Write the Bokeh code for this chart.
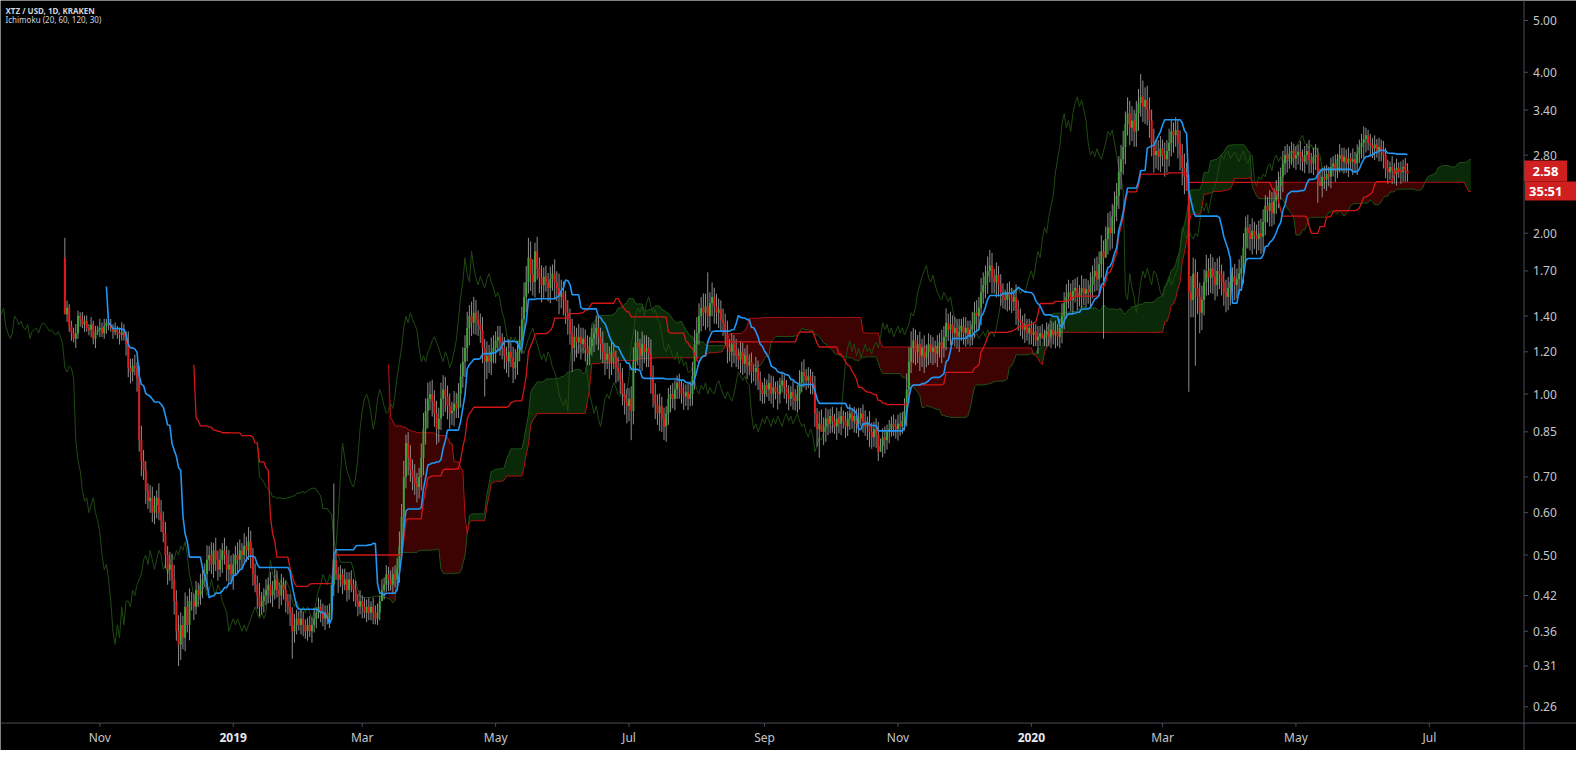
import numpy as np
import pandas as pd
from bokeh.plotting import figure
from bokeh.models import Range1d, Label, Span
from bokeh.core.properties import value
from bokeh.embed import file_html
from bokeh.resources import INLINE

# ---------------- data (daily XTZ/USD candles) -------------
# day 0 = first candle (mid Oct 2018); open of day 0, then open = previous close
first_open = 1.80
close_a = [1.41, 1.45, 1.34, 1.30, 1.27, 1.30, 1.40, 1.38, 1.35, 1.37,
           1.33, 1.32, 1.35, 1.27, 1.31, 1.32, 1.33, 1.30, 1.34, 1.36,
           1.35, 1.33, 1.31, 1.32, 1.30, 1.29, 1.31, 1.28, 1.24, 1.12,
           1.10, 1.13, 1.12, 1.07, 0.82, 0.75, 0.72, 0.66, 0.63, 0.64,
           0.60, 0.62, 0.64, 0.60, 0.58, 0.55, 0.50, 0.47, 0.48, 0.45,
           0.41, 0.36, 0.34, 0.37, 0.35, 0.40, 0.37, 0.41, 0.41, 0.40,
           0.43, 0.42, 0.44, 0.45, 0.46, 0.49, 0.50, 0.48, 0.51, 0.49,
           0.47, 0.49, 0.51, 0.50, 0.47, 0.48, 0.46, 0.48, 0.50, 0.49,
           0.51, 0.50, 0.52, 0.51, 0.53, 0.50, 0.46, 0.44, 0.42, 0.40,
           0.41, 0.42, 0.43, 0.44, 0.42, 0.43, 0.45, 0.43, 0.42, 0.44]
close_b = [0.43, 0.41, 0.40, 0.39, 0.36, 0.37, 0.38, 0.37, 0.38, 0.37,
           0.36, 0.37, 0.36, 0.37, 0.38, 0.39, 0.40, 0.39, 0.38, 0.39,
           0.38, 0.39, 0.44, 0.49, 0.46, 0.45, 0.46, 0.44, 0.45, 0.43,
           0.45, 0.44, 0.43, 0.41, 0.40, 0.41, 0.40, 0.39, 0.40, 0.39,
           0.40, 0.39, 0.38, 0.39, 0.41, 0.43, 0.44, 0.46, 0.45, 0.44,
           0.46, 0.45, 0.47, 0.52, 0.59, 0.70, 0.81, 0.76, 0.72, 0.70,
           0.68, 0.67, 0.70, 0.76, 0.86, 0.93, 0.98, 1.00, 0.97, 0.92,
           0.86, 0.90, 0.98, 1.02, 0.99, 0.95, 0.92, 0.93, 0.96, 0.94,
           1.00, 1.08, 1.15, 1.22, 1.33, 1.40, 1.36, 1.42, 1.38, 1.35,
           1.32, 1.22, 1.15, 1.18, 1.15, 1.20, 1.22, 1.26, 1.28, 1.25]
close_c = [1.22, 1.18, 1.15, 1.20, 1.17, 1.12, 1.15, 1.20, 1.26, 1.38,
           1.52, 1.62, 1.80, 1.68, 1.62, 1.85, 1.72, 1.65, 1.60, 1.66,
           1.62, 1.58, 1.64, 1.68, 1.62, 1.58, 1.52, 1.55, 1.50, 1.42,
           1.38, 1.30, 1.22, 1.28, 1.25, 1.28, 1.24, 1.27, 1.22, 1.19,
           1.23, 1.27, 1.30, 1.33, 1.28, 1.24, 1.20, 1.16, 1.19, 1.15,
           1.20, 1.17, 1.12, 1.10, 1.06, 1.00, 0.97, 0.95, 0.98, 0.93,
           1.15, 1.25, 1.22, 1.18, 1.24, 1.20, 1.22, 1.19, 1.08, 1.00,
           0.96, 0.92, 0.95, 0.90, 0.87, 0.92, 0.98, 1.00, 0.98, 1.02,
           1.05, 1.03, 1.00, 0.99, 1.01, 0.98, 1.00, 1.08, 1.24, 1.30,
           1.40, 1.45, 1.42, 1.46, 1.40, 1.48, 1.52, 1.46, 1.42, 1.44]
close_d = [1.38, 1.36, 1.30, 1.22, 1.20, 1.24, 1.21, 1.18, 1.16, 1.20,
           1.14, 1.18, 1.13, 1.15, 1.10, 1.10, 1.12, 1.06, 1.02, 1.00,
           1.04, 1.02, 1.05, 1.00, 1.03, 1.01, 1.00, 1.04, 1.06, 1.03,
           1.00, 0.98, 1.01, 0.99, 0.97, 1.00, 1.05, 1.10, 1.08, 1.06,
           1.08, 1.05, 1.04, 0.92, 0.86, 0.88, 0.85, 0.87, 0.90, 0.88,
           0.91, 0.89, 0.87, 0.90, 0.88, 0.91, 0.89, 0.87, 0.90, 0.92,
           0.89, 0.91, 0.88, 0.90, 0.92, 0.89, 0.87, 0.88, 0.85, 0.83,
           0.86, 0.84, 0.78, 0.80, 0.83, 0.82, 0.85, 0.86, 0.88, 0.87,
           0.86, 0.88, 0.87, 0.89, 0.93, 1.02, 1.15, 1.22, 1.26, 1.20,
           1.24, 1.18, 1.22, 1.17, 1.20, 1.24, 1.20, 1.22, 1.19, 1.23]
close_e = [1.25, 1.22, 1.28, 1.36, 1.32, 1.35, 1.30, 1.33, 1.28, 1.31,
           1.34, 1.30, 1.33, 1.29, 1.32, 1.35, 1.42, 1.40, 1.45, 1.55,
           1.60, 1.66, 1.70, 1.74, 1.65, 1.62, 1.67, 1.60, 1.55, 1.52,
           1.50, 1.55, 1.52, 1.49, 1.52, 1.44, 1.38, 1.36, 1.32, 1.35,
           1.30, 1.33, 1.29, 1.31, 1.26, 1.28, 1.30, 1.27, 1.29, 1.31,
           1.28, 1.32, 1.29, 1.31, 1.28, 1.33, 1.40, 1.48, 1.52, 1.55,
           1.50, 1.56, 1.58, 1.52, 1.55, 1.58, 1.54, 1.57, 1.55, 1.60,
           1.66, 1.70, 1.64, 1.75, 1.85, 1.80, 1.95, 2.05, 2.00, 2.15,
           2.25, 2.35, 2.60, 2.75, 2.90, 3.20, 3.35, 3.15, 3.25, 3.10,
           3.35, 3.50, 3.60, 3.45, 3.55, 3.40, 3.25, 2.95, 2.80, 2.85]
close_f = [2.78, 2.88, 2.80, 2.75, 2.85, 2.95, 3.10, 3.05, 3.12, 2.95,
           2.80, 2.65, 2.55, 2.40, 1.55, 1.50, 1.68, 1.58, 1.52, 1.42,
           1.50, 1.62, 1.70, 1.65, 1.72, 1.66, 1.60, 1.70, 1.68, 1.62,
           1.55, 1.52, 1.58, 1.62, 1.66, 1.60, 1.64, 1.68, 1.72, 1.88,
           2.05, 2.00, 1.95, 2.02, 1.98, 1.95, 2.00, 1.97, 2.10, 2.25,
           2.20, 2.28, 2.18, 2.30, 2.40, 2.45, 2.55, 2.70, 2.80, 2.75,
           2.82, 2.85, 2.76, 2.80, 2.84, 2.78, 2.72, 2.80, 2.85, 2.74,
           2.70, 2.78, 2.80, 2.50, 2.45, 2.55, 2.52, 2.58, 2.55, 2.66,
           2.70, 2.62, 2.75, 2.80, 2.72, 2.78, 2.70, 2.76, 2.72, 2.75,
           2.70, 2.82, 2.90, 2.95, 3.00, 3.05, 2.95, 2.92, 2.88, 2.93,
           2.86, 2.90, 2.84, 2.80, 2.64, 2.60, 2.66, 2.62, 2.58, 2.65,
           2.62, 2.60, 2.66, 2.62, 2.58]

# wick of each candle beyond its body, in units of 0.8 % (one digit per day)
wick_unit = 0.008
wick_up = ("0423353243 3242325342 2324235437 5463786547 6548756576 8697586754 "
           "5467685747 5647585657 6475864657 5464756546 4547365454 3454635454 "
           "4509645364 4535463545 3545364545 4568798676 7658979786 7698767576 "
           "6787968575 6758687566 5657567687 8979868675 6575868765 7686575657 "
           "5657657564 6546576767 8765757686 6575646565 4546457889 7687968576 "
           "5657565646 5464546454 4354636453 4536457674 5465378565 4546453545 "
           "3546356475 4674564545 4565798676 5757465646 5768575657 4564576768 "
           "7685757565 4565475646 3545464535 4546457677 5656475657 6787967897 "
           "8798979786 7869787686 6757687576 7688999898 8797868785 6768576878 "
           "6757567876 5767685756 4545464546 4564756545 4536454636 4545763545 "
           "3546453645 35454")
wick_dn = ("0434253424 2343524234 3242353265 6547685746 5674657865 7598674857 "
           "4657486576 6475674867 5746576475 4657465475 5647465356 4536453546 "
           "3546374536 5463546354 4635405463 5467586967 6867989687 8769878685 "
           "5768797686 7809676867 6768586757 7869786897 5786979686 8697868576 "
           "6576786859 7685767980 7697868797 8697086756 5657564678 6879687968 "
           "6768587657 6575657565 5465748546 5647568565 4657990786 5647564656 "
           "4657465786 5780675645 5654587687 6868576757 6857686768 5675687879 "
           "6796868676 5676586757 4656475046 5657568786 6767586768 7868790898 "
           "9879896978 8978989797 7869787968 8990099090 9879898687 7879687898 "
           "7868786987 6876797867 5656575657 5675065656 5647565747 5656874656 "
           "4657564756 46564")

# long wicks (day index: price)
spike_high = {0: 1.96, 123: 0.68, 156: 0.84, 187: 1.52, 212: 1.96, 215: 1.92,
              294: 1.69, 337: 1.15, 387: 1.31, 423: 1.86, 492: 3.97, 595: 3.15}
spike_low = {52: 0.31, 104: 0.32, 143: 0.37, 192: 0.99, 232: 1.10, 259: 0.82,
             274: 0.82, 345: 0.76, 372: 0.75, 444: 1.23, 475: 1.27, 514: 1.01,
             517: 1.13, 519: 1.30, 573: 2.28}

# axis labels (x ticks are day indices of the 1st of each labelled month)
x_ticks = [16, 77, 136, 197, 258, 320, 381, 442, 502, 563, 624]
x_labels = ["Nov", "2019", "Mar", "May", "Jul", "Sep", "Nov", "2020", "Mar", "May", "Jul"]
y_ticks = [0.26, 0.31, 0.36, 0.42, 0.50, 0.60, 0.70, 0.85, 1.00, 1.20, 1.40, 1.70,
           2.00, 2.80, 3.40, 4.00, 5.00]
countdown_label = "35:51"
title_line1 = "XTZ / USD, 1D, KRAKEN"
title_line2 = "Ichimoku (20, 60, 120, 30)"
conv_len, base_len, spanb_len, displacement = 20, 60, 120, 30

# ---------------- candles & Ichimoku -------------
c = np.array(close_a + close_b + close_c + close_d + close_e + close_f)
n = len(c)
o = np.concatenate([[first_open], c[:-1]])
top = np.maximum(o, c)
bot = np.minimum(o, c)
up = np.array([int(ch) for ch in wick_up.replace(" ", "")][:n]) * wick_unit
dn = np.array([int(ch) for ch in wick_dn.replace(" ", "")][:n]) * wick_unit
hi = top * (1 + up)
lo = bot * (1 - dn)
for k, v in spike_high.items():
    hi[k] = max(v, top[k])
for k, v in spike_low.items():
    lo[k] = min(v, bot[k])
day = np.arange(n)

hs, ls = pd.Series(hi), pd.Series(lo)


def donchian_mid(per):
    return ((hs.rolling(per).max() + ls.rolling(per).min()) / 2).to_numpy()


conv = donchian_mid(conv_len)
base = donchian_mid(base_len)
spanb = donchian_mid(spanb_len)
spana = (conv + base) / 2
shift = displacement - 1

# ---------------- figure (whole canvas is the frame; scales drawn by hand) -------------
W, H = 1576, 750
X0, X1 = -29.43, 691.3          # day range across the canvas
Y0, Y1 = 0.2154, 5.45           # price range across the canvas (log)
AXIS_X = 667.3                  # day position of the price-scale line
AXIS_Y = 0.2424                 # price position of the time-scale line
px_per_day = W / (X1 - X0)
px_per_decade = H / np.log10(Y1 / Y0)

p = figure(width=W, height=H, x_range=Range1d(X0, X1), y_range=Range1d(Y0, Y1),
           y_axis_type="log", output_backend="svg", toolbar_location=None,
           background_fill_color="#000000", border_fill_color="#000000",
           outline_line_color=None, min_border=0)
p.axis.visible = False
p.xgrid.visible = False
p.ygrid.visible = False

# cloud
m = ~np.isnan(spanb)
xs = day[m] + shift
A = spana[m]
B = spanb[m]
top_ab = np.maximum(A, B)
p.varea(x=xs, y1=B, y2=top_ab, fill_color="#0a2909", fill_alpha=1.0)
p.varea(x=xs, y1=A, y2=top_ab, fill_color="#3d0202", fill_alpha=1.0)

ma = ~np.isnan(spana)
p.line(day[ma] + shift, spana[ma], line_color="#1f5416", line_width=1)
p.line(xs, B, line_color="#b31212", line_width=1)

# lagging span
p.line(day - shift, c, line_color="#1f4a12", line_width=1)

# candles
p.segment(x0=day, y0=lo, x1=day, y1=hi, line_color="#8e8e8e", line_width=1)
inc = c >= o
p.vbar(x=day[inc], width=0.9, top=top[inc], bottom=bot[inc],
       fill_color="#3fa33a", line_color=None)
p.vbar(x=day[~inc], width=0.9, top=top[~inc], bottom=bot[~inc],
       fill_color="#e31a1a", line_color=None)

# base & conversion lines
mb = ~np.isnan(base)
p.line(day[mb], base[mb], line_color="#d41616", line_width=1.3)
mc = ~np.isnan(conv)
p.line(day[mc], conv[mc], line_color="#2196f3", line_width=1.6)

# ---------------- scales -------------
FONT = "Noto Sans"
ax_col = "#4a4d55"
lab_col = "#c3c6cc"
p.add_layout(Span(location=AXIS_X, dimension="height", line_color=ax_col, line_width=1))
p.add_layout(Span(location=AXIS_Y, dimension="width", line_color=ax_col, line_width=1))

# price scale
tick_len_days = 4 / px_per_day
p.segment(x0=[AXIS_X] * len(y_ticks), y0=y_ticks,
          x1=[AXIS_X + tick_len_days] * len(y_ticks), y1=y_ticks,
          line_color=ax_col, line_width=1)
p.text(x=[AXIS_X + 9 / px_per_day] * len(y_ticks), y=y_ticks,
       text=[f"{v:.2f}" for v in y_ticks], text_align="left", text_baseline="middle",
       text_font=value(FONT), text_font_size=value("12px"), text_color=lab_col)

# time scale
p.segment(x0=x_ticks, y0=[AXIS_Y] * len(x_ticks), x1=x_ticks,
          y1=[AXIS_Y * 0.984] * len(x_ticks), line_color=ax_col, line_width=1)
lab_y = AXIS_Y * 0.939
months = [i for i, l in enumerate(x_labels) if not l.isdigit()]
years = [i for i, l in enumerate(x_labels) if l.isdigit()]
p.text(x=[x_ticks[i] for i in months], y=[lab_y] * len(months),
       text=[x_labels[i] for i in months], text_align="center", text_baseline="middle",
       text_font=value(FONT), text_font_size=value("12px"), text_color=lab_col)
p.text(x=[x_ticks[i] for i in years], y=[lab_y] * len(years),
       text=[x_labels[i] for i in years], text_align="center", text_baseline="middle",
       text_font=value(FONT), text_font_size=value("12px"), text_font_style="bold",
       text_color="#e8eaee")

# last price & countdown boxes on the price scale
box_red = "#d01f1f"
last = float(c[-1])
price_y = last * 10 ** (3 / px_per_decade)        # box centre, 3 px above the price
count_y = last * 10 ** (-17 / px_per_decade)      # countdown box just below it
p.rect(x=[AXIS_X + 21.5 / px_per_day], y=[price_y], width=43, height=21,
       width_units="screen", height_units="screen", fill_color=box_red, line_color=None)
p.rect(x=[AXIS_X + 27 / px_per_day], y=[count_y], width=52, height=19,
       width_units="screen", height_units="screen", fill_color=box_red, line_color=None)
p.text(x=[AXIS_X + 8.5 / px_per_day], y=[price_y], text=[f"{last:.2f}"],
       text_align="left", text_baseline="middle", text_font=value(FONT),
       text_font_size=value("13px"), text_font_style="bold", text_color="#ffffff")
p.text(x=[AXIS_X + 5 / px_per_day], y=[count_y], text=[countdown_label],
       text_align="left", text_baseline="middle", text_font=value(FONT),
       text_font_size=value("13px"), text_font_style="bold", text_color="#ffffff")

# title
p.add_layout(Label(x=5, y=H - 4, x_units="screen", y_units="screen", text=title_line1,
                   text_baseline="top", text_font=FONT, text_font_size="8px",
                   text_font_style="bold", text_color="#d1d4dc"))
p.add_layout(Label(x=5, y=H - 13, x_units="screen", y_units="screen", text=title_line2,
                   text_baseline="top", text_font=FONT, text_font_size="8px",
                   text_color="#d1d4dc"))

open("out.html", "w").write(file_html(p, INLINE))
